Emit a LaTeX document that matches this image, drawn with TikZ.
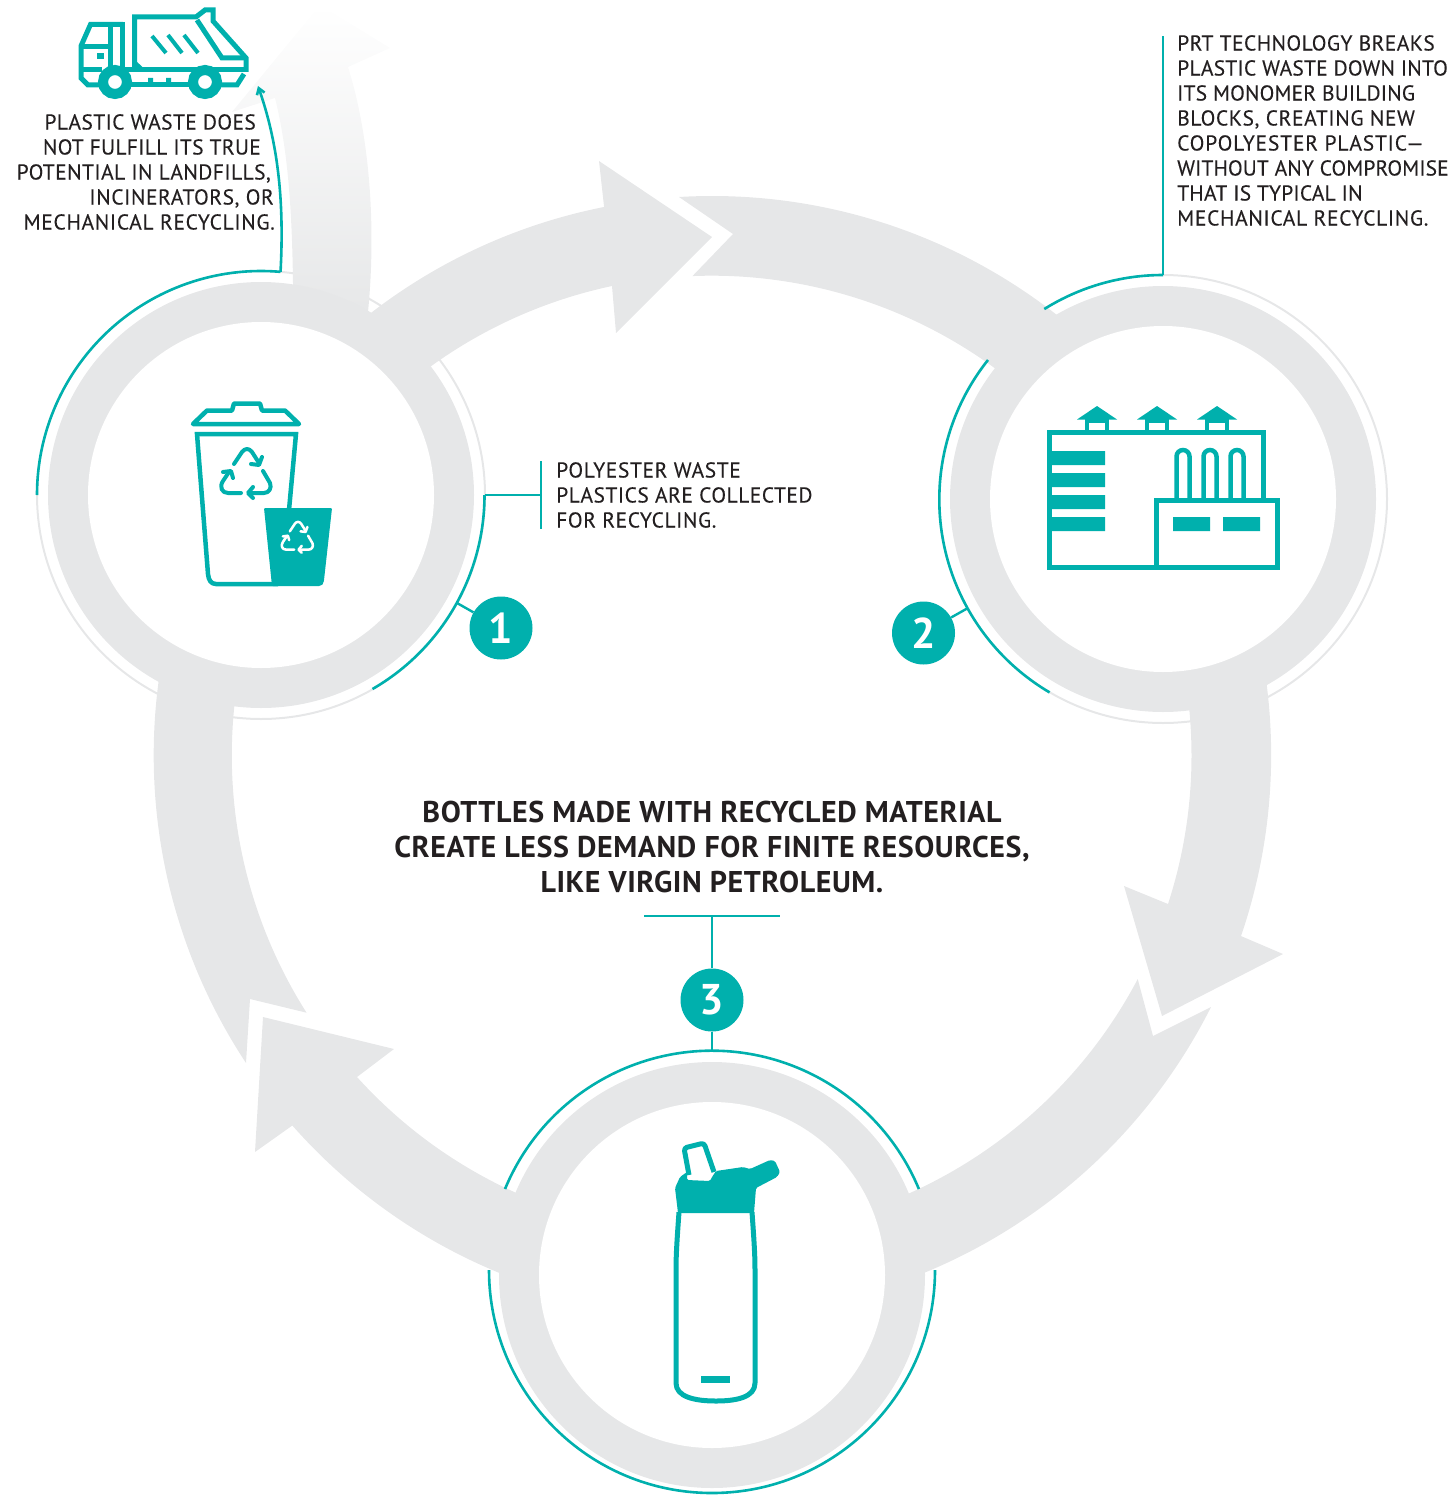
\documentclass[tikz,border=0pt]{standalone}
\usepackage{fontspec}
\setmainfont{PT Sans}
\newfontfamily\smallface[FakeBold=0.15]{PT Sans}
\newfontfamily\headface[LetterSpace=1.9,BoldFont={PT Sans Bold}]{PT Sans}
\newcommand{\lsp}[2]{{\addfontfeature{LetterSpace=#1}#2}}
\usetikzlibrary{arrows.meta}
\definecolor{teal1}{HTML}{00B0AD}
\definecolor{band}{HTML}{E6E7E8}
\definecolor{ink}{HTML}{231F20}
\tikzset{
  thin ring/.style={draw=band,line width=2pt},
  teal arc/.style={draw=teal1,line width=2.6pt},
  link/.style={draw=teal1,line width=2.4pt},
  icon/.style={draw=teal1,line width=5pt,line join=miter},
  badge/.style={circle,fill=teal1,minimum size=63pt,inner sep=0pt,text=white,font=\fontsize{43}{43}\selectfont\bfseries},
  small/.style={inner sep=0pt,text=ink,font=\smallface\fontsize{21.5}{25}\selectfont},
  head/.style={inner sep=0pt,text=ink,font=\headface\fontsize{30}{35}\selectfont\bfseries},
}
\newcommand{\recyc}[4]{%
 \begin{scope}[shift={(#1,#2)},scale=#3,draw=#4,line width=#3*4pt,line cap=round,line join=round]
  \draw (-13,9) -- (-5,21) .. controls (-2,25) and (2,25) .. (5,21) -- (12,10);
  \draw (4,9) -- (12,8) -- (15,16);
  \draw (16,2) -- (23,-10) .. controls (25,-15) and (22,-20) .. (17,-20) -- (3,-20);
  \draw (6,-14) -- (1,-20) -- (6,-25);
  \draw (-6,-20) -- (-19,-20) .. controls (-25,-20) and (-28,-14) .. (-24,-8) -- (-18,1);
  \draw (-24,1) -- (-16,2) -- (-14,-5);
 \end{scope}}
\begin{document}
\begin{tikzpicture}[x=1pt,y=1pt]
\useasboundingbox (0,0) rectangle (1453,-1498);
% thin outer circles
\draw[thin ring] (261,-495) circle[radius=224];
\draw[thin ring] (1163,-499) circle[radius=224];
% faded arrow
\shade[top color=white,bottom color=band,shading angle=0]
  (293,-300) -- (293,-283) .. controls (292,-210) and (288,-150) .. (275,-98)
  -- (232,-112) -- (320,-5) -- (390,-48) -- (348,-67)
  .. controls (368,-130) and (377,-220) .. (368,-312) -- (340,-320) -- cycle;
% cycle bands
\fill[band] (246,-1063)
  arc[start angle=213.4,end angle=101.2,radius=559]
  -- (599,-161) -- (712,-237) -- (616,-333) -- (612,-286)
  arc[start angle=102,end angle=212.4,radius=480]
  -- (250,-999) -- cycle;
\fill[band] (679,-197)
  arc[start angle=93.4,end angle=-18.9,radius=559]
  -- (1283,-954) -- (1162,-1016) -- (1124,-886) -- (1168,-904)
  arc[start angle=-18,end angle=92.27,radius=480]
  -- (733,-234) -- cycle;
\fill[band] (1211,-1007)
  arc[start angle=-26.7,end angle=-138.6,radius=559]
  -- (255,-1152) -- (263,-1017) -- (394,-1049) -- (357,-1077)
  arc[start angle=-137.9,end angle=-27.8,radius=480]
  -- (1153,-1036) -- cycle;
% rings
\foreach \cx/\cy in {261/495,1163/499,712/1275}{
  \fill[band] (\cx,-\cy) circle[radius=213];
  \fill[white] (\cx,-\cy) circle[radius=173];
}
% teal arcs ring 1
\draw[teal arc] (37,-495) arc[start angle=180,end angle=85,radius=224] coordinate (t1);
\draw[teal arc] (372.5,-689) arc[start angle=-60,end angle=0,radius=224] coordinate (t1b);
% ring 2
\draw[teal arc] (1163,-275) arc[start angle=90,end angle=122,radius=224];
\draw[teal arc] (988,-360) arc[start angle=141.5,end angle=239.5,radius=224];
% ring 3
\draw[teal arc] (505,-1189) arc[start angle=157.5,end angle=22.5,radius=224];
\draw[teal arc] (489,-1270) arc[start angle=180,end angle=360,radius=223];
% exit arrow
\draw[teal arc,-{Straight Barb[length=6pt,width=8pt]}] (t1) .. controls (285,-190) and (275,-135) .. (258,-86);
% labels
\node[small,anchor=north east,align=right] (lab0) at (275,-114) {\lsp{1.8}{PLASTIC WASTE DOES}\kern19pt\\\lsp{1.4}{NOT FULFILL ITS TRUE}\kern14pt\\\lsp{2}{POTENTIAL IN LANDFILLS,}\kern4pt\\\lsp{2.6}{INCINERATORS, OR}\kern1pt\\\lsp{3.1}{MECHANICAL RECYCLING.}};
\node[small,anchor=north west,align=left] (lab1) at (556,-462) {\lsp{2.8}{POLYESTER WASTE}\\\lsp{2.3}{PLASTICS ARE COLLECTED}\\\lsp{2.7}{FOR RECYCLING.}};
\node[small,anchor=north west,align=left] (lab2) at (1177,-35) {\lsp{2}{PRT TECHNOLOGY BREAKS}\\\lsp{1}{PLASTIC WASTE DOWN INTO}\\\lsp{0.7}{ITS MONOMER BUILDING}\\\lsp{2.8}{BLOCKS, CREATING NEW}\\\lsp{3.7}{COPOLYESTER PLASTIC—}\\\lsp{0.4}{WITHOUT ANY COMPROMISE}\\\lsp{1}{THAT IS TYPICAL IN}\\\lsp{3.1}{MECHANICAL RECYCLING.}};
\node[head,anchor=north,align=center] (lab3) at (712,-801) {BOTTLES MADE WITH RECYCLED MATERIAL\\CREATE LESS DEMAND FOR FINITE RESOURCES,\\LIKE VIRGIN PETROLEUM.};
% badges
\node[badge] (b1) at (501,-628) {1};
\node[badge] (b2) at (923.5,-633) {2};
\node[badge] (b3) at (712,-1000) {3};
% connectors
\coordinate (e1) at (457,-603);
\coordinate (e2) at (968,-608);
\coordinate (e3) at (712,-1052);
\coordinate (e3b) at (712,-916);
\draw[link] (b1) -- (e1);
\draw[link] (b2) -- (e2);
\draw[link] (b3) -- (e3);
\draw[link] (b3) -- (e3b);
\draw[link] (644,-916) -- (780,-916);
\coordinate (j1) at (485,-495);
\coordinate (j1b) at (541,-495);
\draw[link] (j1) -- (j1b);
\draw[link] (541,-461) -- (541,-529);
\draw[link] (1163,-275) -- (1163,-36);
% truck
\begin{scope}[icon]
 \draw (123,-24.5) -- (90.5,-24.5) -- (81,-46) -- (81,-78) -- (88,-85) -- (103,-85);
 \draw (81,-47) -- (110,-47) ; \draw (110.5,-24.5) -- (110.5,-68);
 \draw (122.5,-22) -- (122.5,-71);
 \draw (81,-70) -- (102,-70);
 \draw (122,-70) -- (246,-70);
 \draw (128,-85) -- (192,-85);
 \draw (219,-85) -- (237,-85) -- (244,-74);
 \draw (134.5,-70) -- (134.5,-17) -- (196,-17) -- (205,-10) -- (213,-10) -- (213,-21) -- (246,-58) -- (246,-72);
 \draw (197,-20) -- (222,-58) -- (246,-58);
 \draw (134.5,-63) -- (142,-70);
 \draw[line width=4pt] (152,-36) -- (166,-53) (168,-35) -- (182,-53) (184,-35) -- (198,-53);
\end{scope}
\fill[teal1] (97,-53) rectangle (104,-59);
\fill[teal1] (148,-78) rectangle (153,-83) (166,-78) rectangle (171,-83);
\foreach \wx in {115,205}{
  \draw[teal1,line width=10pt,fill=white] (\wx,-82) circle[radius=12];
}
% bin
\begin{scope}[icon,line width=4.5pt,line join=round]
 \draw (193,-424) -- (207,-410.5) -- (232,-410.5) -- (234,-403.5) -- (260,-403.5) -- (262,-410.5) -- (285,-410.5) -- (299,-424) -- cycle;
 \draw[line join=miter] (289,-510) -- (296,-434) -- (197,-434) -- (208,-574) .. controls (208.5,-580) and (211,-584) .. (216,-584) -- (278,-584);
\end{scope}
\recyc{247}{-473}{1}{teal1}
\fill[teal1,rounded corners=1pt] (264,-508) -- (332,-508) -- (324,-580) .. controls (323.5,-584) and (322,-586) .. (318,-586) -- (272,-586) -- cycle;
\recyc{298}{-537}{0.63}{white}
% factory
\begin{scope}[icon,line width=5pt]
 \draw (1263,-499) -- (1263,-432) -- (1049,-432) -- (1049,-567) -- (1156,-567);
 \draw (1156,-500) rectangle (1277,-567);
\end{scope}
\fill[teal1] (1052,-451) rectangle (1105,-465) (1052,-473) rectangle (1105,-487) (1052,-495) rectangle (1105,-509) (1052,-517) rectangle (1105,-531);
\fill[teal1] (1173,-517) rectangle (1210,-531) (1223,-517) rectangle (1260,-531);
\foreach \hx in {1183,1210,1237}{
  \draw[icon,line width=4.5pt] (\hx-6.5,-500) -- (\hx-6.5,-456.5) arc[start angle=180,end angle=0,radius=6.5] -- (\hx+6.5,-500);
}
\foreach \hx in {1097,1157,1217}{
  \fill[teal1] (\hx,-406) -- (\hx+20,-419.5) -- (\hx-20,-419.5) -- cycle;
  \draw[icon,line width=4.5pt] (\hx-10,-419) -- (\hx-10,-434) (\hx+10,-419) -- (\hx+10,-434);
  \fill[teal1] (\hx-12,-418) rectangle (\hx+12,-423);
}
% bottle
\draw[icon,line join=round] (679,-1212) .. controls (677,-1240) and (676,-1255) .. (676,-1270) -- (676,-1383)
  .. controls (676,-1397) and (695,-1401) .. (716,-1401) .. controls (737,-1401) and (755,-1397) .. (755,-1383)
  -- (755,-1270) .. controls (755,-1255) and (754,-1240) .. (752,-1212);
\fill[teal1,rounded corners=1.5pt] (678,-1213) -- (675,-1188) -- (680,-1177) -- (687,-1172) -- (687,-1180) -- (710,-1181) -- (712,-1177) -- (716,-1171) -- (743,-1167) -- (750,-1169) -- (770,-1160) -- (775,-1161) -- (780,-1172) -- (777,-1177) -- (756,-1188) -- (754,-1213) -- cycle;
\draw[icon,line join=round,rounded corners=3pt] (689,-1175) -- (684,-1148) -- (704,-1143) -- (714,-1172);
\fill[teal1] (701,-1376) rectangle (730,-1383);
\end{tikzpicture}
\end{document}
